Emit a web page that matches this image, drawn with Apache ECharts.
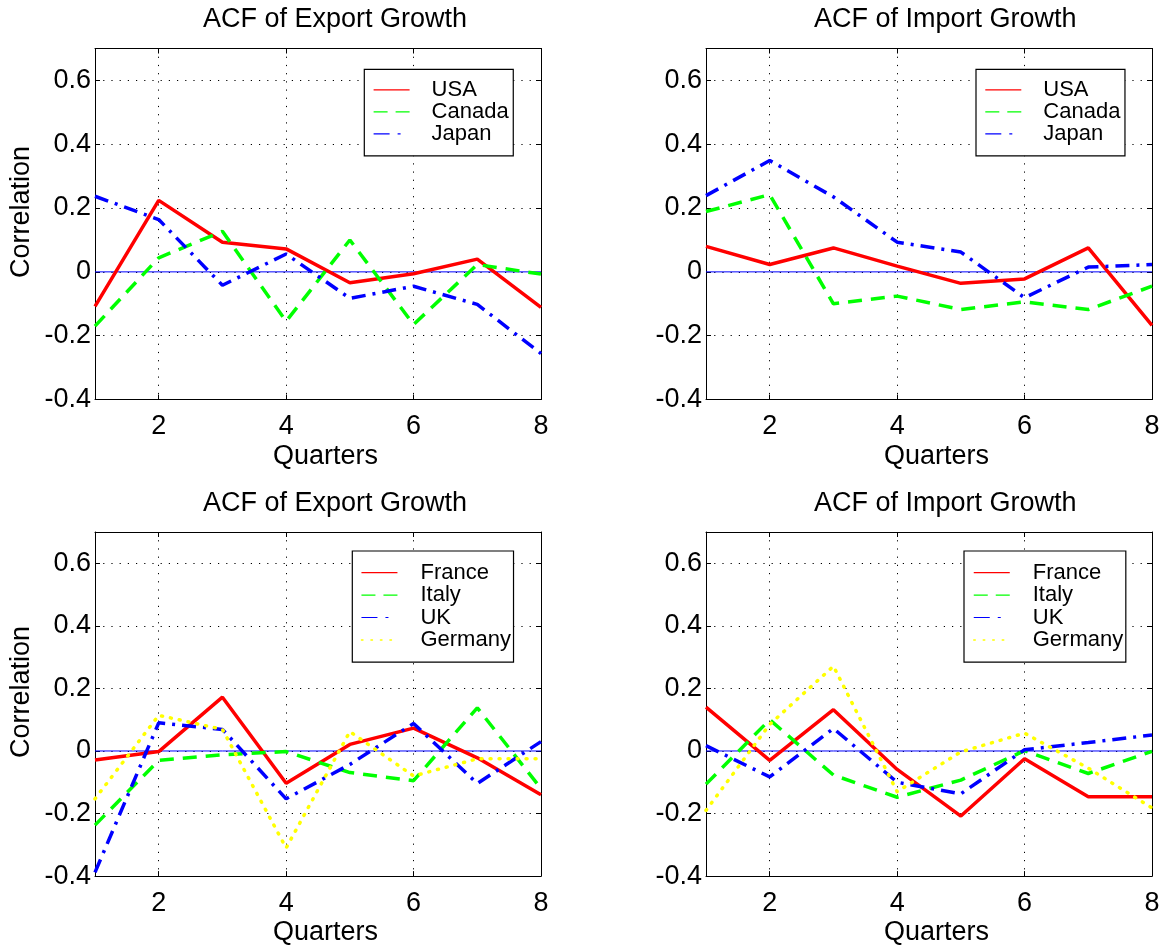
<!DOCTYPE html>
<html>
<head>
<meta charset="utf-8">
<script src="https://cdn.jsdelivr.net/npm/echarts@6/dist/echarts.min.js"></script>
<style>
html,body{margin:0;padding:0;background:#fff;}
#chart{width:1169px;height:949px;}
</style>
</head>
<body>
<div id="chart"></div>
<script>
// ---------- data ----------
const quarters = ['1', '2', '3', '4', '5', '6', '7', '8'];
const yTicks = [-0.4, -0.2, 0, 0.2, 0.4, 0.6];

const titles = ['ACF of Export Growth', 'ACF of Import Growth', 'ACF of Export Growth', 'ACF of Import Growth'];

// top-left: export growth
const expUSA    = [-0.108, 0.224, 0.093, 0.072, -0.034, -0.006, 0.040, -0.111];
const expCanada = [-0.170, 0.044, 0.127, -0.155, 0.100, -0.165, 0.023, -0.007];
const expJapan  = [0.237, 0.164, -0.042, 0.056, -0.083, -0.045, -0.102, -0.256];
// top-right: import growth
const impUSA    = [0.080, 0.023, 0.075, 0.018, -0.036, -0.022, 0.075, -0.168];
const impCanada = [0.189, 0.242, -0.100, -0.076, -0.118, -0.094, -0.118, -0.045];
const impJapan  = [0.239, 0.349, 0.235, 0.093, 0.062, -0.081, 0.015, 0.023];
// bottom-left: export growth
const expFrance  = [-0.029, -0.002, 0.172, -0.103, 0.021, 0.073, -0.022, -0.140];
const expItaly   = [-0.237, -0.030, -0.012, -0.002, -0.069, -0.095, 0.138, -0.120];
const expUK      = [-0.388, 0.090, 0.069, -0.153, -0.043, 0.088, -0.104, 0.030];
const expGermany = [-0.153, 0.114, 0.069, -0.310, 0.062, -0.080, -0.025, -0.025];
// bottom-right: import growth
const impFrance  = [0.140, -0.030, 0.132, -0.059, -0.208, -0.025, -0.146, -0.146];
const impItaly   = [-0.106, 0.100, -0.077, -0.148, -0.093, 0.001, -0.072, -0.001];
const impUK      = [0.017, -0.083, 0.072, -0.100, -0.137, 0.004, 0.027, 0.051];
const impGermany = [-0.190, 0.085, 0.271, -0.130, -0.003, 0.057, -0.055, -0.182];
const zeroLine   = [0, 0, 0, 0, 0, 0, 0, 0];

// ---------- styles ----------
const FONT = '"Liberation Sans", Arial, Helvetica, sans-serif';
const STY = {
  solidRed:  { color: '#ff0000', type: 'solid', width: 3.5 },
  dashGreen: { color: '#00ff00', type: [14, 9], width: 3.5 },
  dashDotBlue: { color: '#0000ff', type: [14, 7, 3, 7], width: 3.5 },
  dotYellow: { color: '#ffff00', type: [1, 8], width: 3.5, cap: 'round' }
};
const LEG = {
  solidRed:  { color: '#ff0000', type: 'solid', width: 1.2 },
  dashGreen: { color: '#00ff00', type: [14, 8], width: 1.2 },
  dashDotBlue: { color: '#0000ff', type: [16, 8, 3, 9], width: 1.2 },
  dotYellow: { color: '#ffff00', type: [1.5, 8], width: 1.5 }
};

const panels = [
  { left: 95,  top: 48.5, series: [['USA', expUSA, 'solidRed'], ['Canada', expCanada, 'dashGreen'], ['Japan', expJapan, 'dashDotBlue']],
    legend: { left: 364.3, top: 69.3, row: 21, pad: [9.5, 4.6, 11, 8.7], tpad: 17 }, ylabel: true },
  { left: 706, top: 48.5, series: [['USA', impUSA, 'solidRed'], ['Canada', impCanada, 'dashGreen'], ['Japan', impJapan, 'dashDotBlue']],
    legend: { left: 976, top: 69.3, row: 21, pad: [9.5, 4.6, 11, 8.7], tpad: 17 }, ylabel: false },
  { left: 95,  top: 532, series: [['France', expFrance, 'solidRed'], ['Italy', expItaly, 'dashGreen'], ['UK', expUK, 'dashDotBlue'], ['Germany', expGermany, 'dotYellow']],
    legend: { left: 352.3, top: 551, row: 22.4, pad: [10.5, 2.6, 11, 8.4], tpad: 18 }, ylabel: true },
  { left: 706, top: 532, series: [['France', impFrance, 'solidRed'], ['Italy', impItaly, 'dashGreen'], ['UK', impUK, 'dashDotBlue'], ['Germany', impGermany, 'dotYellow']],
    legend: { left: 964, top: 551, row: 22.4, pad: [10.5, 2.6, 11, 9], tpad: 18 }, ylabel: false }
];
const GW = 446, GH = 351;

const evenIdx = (i) => (i + 1) % 2 === 0;
const gridLine = { show: true, interval: evenIdx, lineStyle: { color: '#000', width: 1, type: [1.2, 7] } };

const option = {
  backgroundColor: '#fff',
  animation: false,
  title: [], grid: [], xAxis: [], yAxis: [], legend: [], series: []
};

panels.forEach((p, gi) => {
  option.title.push({
    text: titles[gi], left: p.left + 108, top: p.top - 43.5, padding: 0,
    textStyle: { fontFamily: FONT, fontSize: 27, fontWeight: 'normal', color: '#000', lineHeight: 30 }
  });
  option.grid.push({ left: p.left, top: p.top, width: GW, height: GH, containLabel: false });
  option.xAxis.push({
    type: 'category', gridIndex: gi, data: quarters, boundaryGap: false, position: 'bottom',
    name: 'Quarters', nameLocation: 'middle', nameGap: 37,
    nameTextStyle: { fontFamily: FONT, fontSize: 27, color: '#000', lineHeight: 30, padding: [0, 0, 0, 15] },
    axisLine: { show: true, onZero: false, lineStyle: { color: '#000', width: 1 } },
    axisTick: { show: true, inside: true, length: 5, interval: evenIdx, lineStyle: { color: '#000' } },
    axisLabel: { interval: evenIdx, margin: 14, fontFamily: FONT, fontSize: 27, color: '#000' },
    splitLine: gridLine
  });
  option.xAxis.push({
    type: 'category', gridIndex: gi, data: quarters, boundaryGap: false, position: 'top',
    axisLine: { show: true, onZero: false, lineStyle: { color: '#000', width: 1 } },
    axisTick: { show: true, inside: true, length: 5, interval: evenIdx, lineStyle: { color: '#000' } },
    axisLabel: { show: false }, splitLine: { show: false }
  });
  const yBase = {
    type: 'value', gridIndex: gi, min: yTicks[0], max: 0.7, interval: 0.2
  };
  option.yAxis.push(Object.assign({}, yBase, {
    position: 'left',
    name: p.ylabel ? 'Correlation' : '', nameLocation: 'middle', nameGap: 58,
    nameTextStyle: { fontFamily: FONT, fontSize: 27, color: '#000', lineHeight: 30, padding: [0, 0, 0, 24] },
    axisLine: { show: true, onZero: false, lineStyle: { color: '#000', width: 1 } },
    axisTick: { show: true, inside: true, length: 5, lineStyle: { color: '#000' } },
    axisLabel: {
      margin: 4, fontFamily: FONT, fontSize: 27, color: '#000',
      formatter: (v) => (v > yTicks[yTicks.length - 1] + 0.05 ? '' : String(+v.toFixed(1)))
    },
    splitLine: { show: true, lineStyle: { color: '#000', width: 1, type: [1.2, 7] } }
  }));
  option.yAxis.push(Object.assign({}, yBase, {
    position: 'right',
    axisLine: { show: true, onZero: false, lineStyle: { color: '#000', width: 1 } },
    axisTick: { show: true, inside: true, length: 5, lineStyle: { color: '#000' } },
    axisLabel: { show: false }, splitLine: { show: false }
  }));

  // zero reference line
  option.series.push({
    name: 'zero' + gi, type: 'line', xAxisIndex: gi * 2, yAxisIndex: gi * 2, data: zeroLine,
    symbol: 'none', silent: true, z: 1, lineStyle: { color: '#0000ff', width: 1 }
  });
  p.series.forEach(([name, data, sty]) => {
    option.series.push({
      name: name, type: 'line', xAxisIndex: gi * 2, yAxisIndex: gi * 2, data: data,
      symbol: 'none', z: 3, lineStyle: STY[sty], itemStyle: { color: STY[sty].color }
    });
  });
  const L = p.legend;
  option.legend.push({
    orient: 'vertical', left: L.left, top: L.top, padding: L.pad,
    itemWidth: 36, itemHeight: L.row, itemGap: 0,
    borderColor: '#000', borderWidth: 1.2, backgroundColor: '#fff', borderRadius: 0,
    selectedMode: false,
    data: p.series.map(([name, , sty]) => ({
      name: name, lineStyle: LEG[sty],
      itemStyle: { color: 'rgba(0,0,0,0)', borderColor: 'rgba(0,0,0,0)', borderWidth: 0, opacity: 0 }
    })),
    textStyle: { fontFamily: FONT, fontSize: 22, color: '#000', lineHeight: L.row, padding: [0, 0, 0, L.tpad] }
  });
});

const chart = echarts.init(document.getElementById('chart'), null, { renderer: 'canvas' });
chart.setOption(option);
</script>
</body>
</html>
